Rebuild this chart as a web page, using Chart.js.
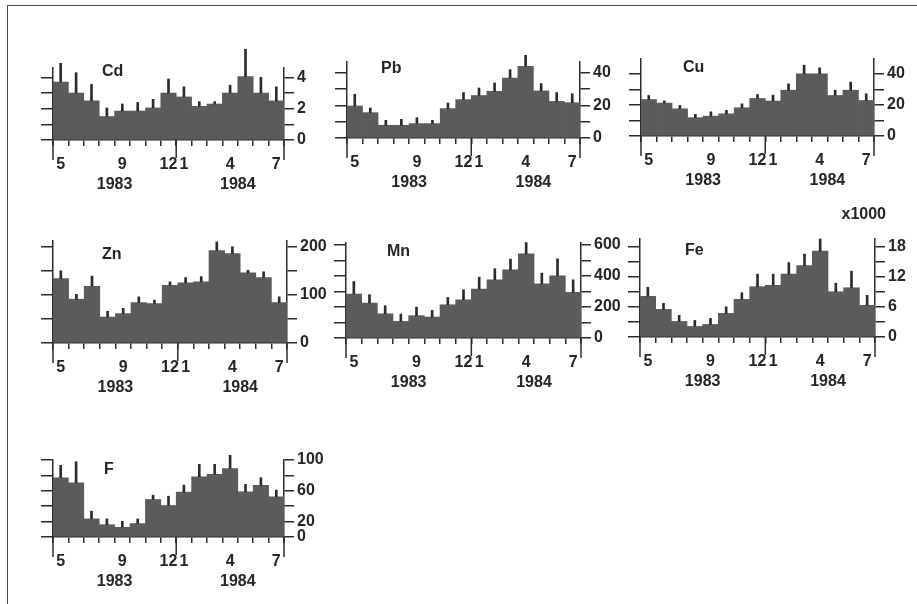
<!DOCTYPE html>
<html><head><meta charset="utf-8">
<script src="https://cdn.jsdelivr.net/npm/chart.js@4.4.0/dist/chart.umd.min.js"></script>
<style>
html,body{margin:0;padding:0;background:#fff;width:917px;height:604px;overflow:hidden;position:relative;}
#frame{position:absolute;left:7px;top:5px;width:930px;height:620px;border-top:1.5px solid #4a4a4a;border-left:1.5px solid #4a4a4a;}
canvas{position:absolute;}
</style></head><body>
<div id="frame"></div>
<script>
// ---- categories / tick labels ----
const months = ['5','','','','9','','','12','1','','','4','','','7'];
const yearLabels = ['1983','1984'];
const yearPositions = [4, 12];

// ---- series values (monthly means) and upper error limits ----
const cdValues = [3.7, 3.0, 2.5, 1.5, 1.85, 1.85, 2.05, 3.0, 2.75, 2.15, 2.3, 3.0, 4.05, 3.0, 2.5];
const cdErrors = [4.9, 4.3, 3.55, 2.05, 2.3, 2.4, 2.6, 3.9, 3.4, 2.45, 2.45, 3.5, 5.8, 4.0, 3.4];
const pbValues = [19.6, 15.5, 7.8, 7.8, 8.8, 8.8, 18, 23.5, 26, 28.6, 36.7, 43.9, 28.8, 22.4, 21.6];
const pbErrors = [26.7, 18.4, 10.8, 11.4, 12.4, 10.8, 21.4, 27.8, 30.6, 33.7, 41.8, 50.6, 33.3, 27.8, 27.1];
const cuValues = [23.5, 21.2, 17.5, 11.8, 12.8, 14.3, 18.2, 24.2, 22.5, 29.5, 40, 40, 26.1, 29.5, 22.9];
const cuErrors = [26.1, 22.6, 19.7, 13.9, 15.6, 16.5, 20.7, 26.7, 26.3, 33.6, 45.6, 43.9, 29.5, 34.7, 27.2];
const znValues = [134, 91, 118, 54, 61, 84, 82, 120, 125, 127, 192, 186, 146, 136, 84];
const znErrors = [150, 101, 139, 66, 72, 96, 89, 127, 136, 138, 210, 200, 151, 148, 96];
const mnValues = [283, 225, 156, 107, 144, 135, 214, 246, 315, 375, 439, 542, 349, 401, 294];
const mnErrors = [364, 279, 208, 154, 199, 178, 261, 311, 392, 446, 508, 615, 418, 510, 375];
const feValues = [8.1, 5.5, 3.1, 2.1, 2.5, 4.7, 7.5, 10.0, 10.3, 12.5, 14.2, 17.1, 9.0, 9.8, 6.3];
const feErrors = [9.9, 6.7, 4.3, 3.3, 3.7, 6.0, 8.8, 12.5, 12.5, 14.8, 16.5, 19.5, 10.7, 13.1, 8.3];
const fValues = [77, 70.4, 23.5, 16, 12.6, 17.4, 48.7, 40.9, 58.3, 78.3, 81.3, 89, 58.7, 67, 52.2];
const fErrors = [93, 97.8, 33.5, 23.5, 20.4, 23.5, 54.3, 53, 67.4, 94.3, 94.3, 106, 68.3, 77, 60.9];

// ---- y tick labels shown on the right axis ----
const cdYLabels = [0, 2, 4];
const pbYLabels = [0, 20, 40];
const cuYLabels = [0, 20, 40];
const znYLabels = [0, 100, 200];
const mnYLabels = [0, 200, 400, 600];
const feYLabels = [0, 6, 12, 18];
const fYLabels = [0, 20, 60, 100];

// ---- layout / style ----
const INK = '#2b2b2b', BAR = '#5b5b5b', TEXT = '#252525';
const FAMILY = "'Liberation Sans', Arial, sans-serif";
const FONT = {family: FAMILY, size: 16, weight: 'bold'};
const PAD_L = 14, PAD_R = 48, PAD_T = 40, XH = 33, X2H = 24;

const panels = [
  {name:'Cd', values:cdValues, errors:cdErrors, yLabels:cdYLabels, max:4.6, step:1,  box:{left:52.7, right:283.3, top:68.3, bottom:140},  tag:{dx:49, dy:3.5}},
  {name:'Pb', values:pbValues, errors:pbErrors, yLabels:pbYLabels, max:46.5, step:10, box:{left:347.3, right:580, top:61.7, bottom:137.7}, tag:{dx:34, dy:6.5}},
  {name:'Cu', values:cuValues, errors:cuErrors, yLabels:cuYLabels, max:49.6, step:10, box:{left:641, right:874.3, top:59.4, bottom:136.7},  tag:{dx:42, dy:9}},
  {name:'Zn', values:znValues, errors:znErrors, yLabels:znYLabels, max:212, step:50, box:{left:52.7, right:286.7, top:240.9, bottom:342.7}, tag:{dx:49, dy:14}},
  {name:'Mn', values:mnValues, errors:mnErrors, yLabels:mnYLabels, max:612, step:100, box:{left:346, right:580.7, top:243.2, bottom:338.3},  tag:{dx:41, dy:8.5}},
  {name:'Fe', values:feValues, errors:feErrors, yLabels:feYLabels, max:19.5, step:3, box:{left:640, right:875, top:239.2, bottom:336.7},    tag:{dx:45, dy:12}, unit:'x1000'},
  {name:'F',  values:fValues,  errors:fErrors,  yLabels:fYLabels,  max:100, step:20, box:{left:52.7, right:284, top:460, bottom:537.3},     tag:{dx:51, dy:10}}
];

const decor = {
  id: 'decor',
  afterDraw(chart, args, opts) {
    const {ctx, chartArea: a, scales} = chart;
    const x = scales.x;
    const divider = (x.getPixelForValue(7) + x.getPixelForValue(8)) / 2;
    ctx.save();
    ctx.strokeStyle = INK; ctx.lineWidth = 1.5;
    [[a.left, 20], [a.right, 20], [divider, 18]].forEach(([px, len]) => {
      ctx.beginPath(); ctx.moveTo(px, a.bottom); ctx.lineTo(px, a.bottom + len); ctx.stroke();
    });
    ctx.fillStyle = TEXT;
    ctx.font = 'bold 16px ' + FAMILY;
    ctx.textBaseline = 'middle'; ctx.textAlign = 'left';
    ctx.fillText(opts.text, a.left + opts.dx, a.top + opts.dy);
    if (opts.unit) {
      ctx.textAlign = 'right';
      ctx.fillText(opts.unit, a.right + 11, a.top - 24);
    }
    ctx.restore();
  }
};

panels.forEach(p => {
  const c = document.createElement('canvas');
  const left = Math.round(p.box.left - PAD_L);
  const top = Math.round(p.box.top - PAD_T);
  const w = Math.round(p.box.right - p.box.left + PAD_L + PAD_R);
  const h = Math.round(p.box.bottom - p.box.top + PAD_T + XH + X2H);
  c.width = w; c.height = h;
  c.style.left = left + 'px'; c.style.top = top + 'px';
  c.style.width = w + 'px'; c.style.height = h + 'px';
  document.body.appendChild(c);
  const yTickLabel = v => {
    const hit = p.yLabels.find(l => Math.abs(l - v) < p.max * 1e-6);
    return hit === undefined ? '' : String(hit);
  };
  new Chart(c, {
    type: 'bar',
    data: {
      labels: months,
      datasets: [
        {data: p.values, backgroundColor: BAR, borderWidth: 0, barPercentage: 1, categoryPercentage: 1,
         grouped: false, order: 2, xAxisID: 'x', yAxisID: 'y'},
        {data: p.values.map((v, i) => [v, p.errors[i]]), backgroundColor: INK, borderWidth: 0, barThickness: 2,
         grouped: false, order: 1, clip: false, xAxisID: 'x', yAxisID: 'y'}
      ]
    },
    options: {
      responsive: false, animation: false, events: [],
      layout: {padding: {top: PAD_T, left: 0, right: 0, bottom: 0}},
      plugins: {legend: {display: false}, tooltip: {enabled: false},
        decor: {text: p.name, dx: p.tag.dx, dy: p.tag.dy, unit: p.unit}},
      scales: {
        x: {type: 'category', position: 'bottom', offset: true, weight: 0,
            grid: {offset: true, drawOnChartArea: false, tickLength: 6, color: INK, lineWidth: 1.5},
            border: {color: INK, width: 1.5},
            ticks: {autoSkip: false, maxRotation: 0, padding: 8.5, color: TEXT, font: FONT},
            afterFit: s => { s.height = XH; }},
        x2: {type: 'linear', position: 'bottom', min: 0, max: 15, weight: 1, offset: false, bounds: 'data',
            grid: {display: false, offset: false}, border: {display: false},
            afterBuildTicks: s => { s.ticks = yearPositions.map(v => ({value: v})); },
            ticks: {autoSkip: false, maxRotation: 0, padding: -6, color: TEXT, font: FONT,
                    callback: v => yearLabels[yearPositions.indexOf(v)]},
            afterFit: s => { s.height = X2H; }},
        y: {type: 'linear', position: 'left', min: 0, max: p.max, z: 1,
            grid: {drawOnChartArea: false, tickLength: 12, color: INK, lineWidth: 1.5},
            border: {color: INK, width: 1.5},
            ticks: {display: false, autoSkip: false, stepSize: p.step, includeBounds: false},
            afterFit: s => { s.width = PAD_L; }},
        y2: {type: 'linear', position: 'right', min: 0, max: p.max, z: 1,
            grid: {drawOnChartArea: false, tickLength: 10, color: INK, lineWidth: 1.5},
            border: {color: INK, width: 1.5},
            ticks: {autoSkip: false, stepSize: p.step, includeBounds: false, padding: 3, color: TEXT, font: FONT, callback: yTickLabel},
            afterFit: s => { s.width = PAD_R; }}
      }
    },
    plugins: [decor]
  });
});
</script>
</body></html>
